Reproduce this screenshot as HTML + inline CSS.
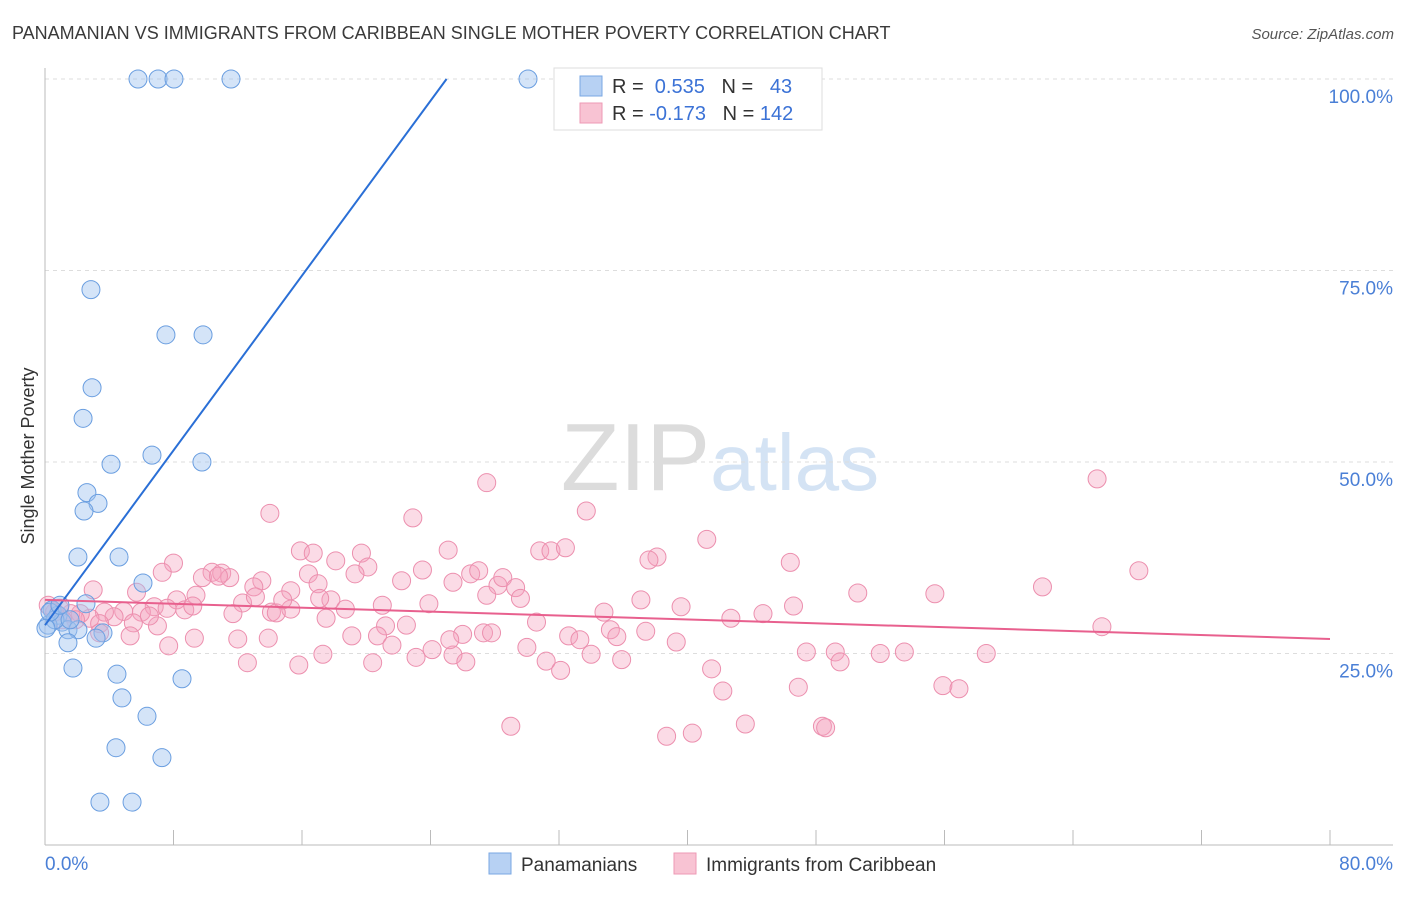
<!DOCTYPE html>
<html><head><meta charset="utf-8">
<style>
body{margin:0;background:#fff;font-family:"Liberation Sans",sans-serif;}
svg text{font-family:"Liberation Sans",sans-serif;}
</style></head>
<body>
<svg id="chart" width="1406" height="892" xmlns="http://www.w3.org/2000/svg">
<text x="12" y="39" font-size="18" fill="#3a3a3a">PANAMANIAN VS IMMIGRANTS FROM CARIBBEAN SINGLE MOTHER POVERTY CORRELATION CHART</text>
<text x="1394" y="39" font-size="15" fill="#555" text-anchor="end" font-style="italic">Source: ZipAtlas.com</text>
<text x="720" y="490" font-size="96" text-anchor="middle" fill="#e4e4e4" font-family="Liberation Serif"><tspan fill="#dcdcdc">ZIP</tspan><tspan fill="#d4e3f4" font-family="Liberation Sans" font-size="80">atlas</tspan></text>
<g id="grid"></g>
<g id="axes"></g>
<g id="pts"></g>
<g id="lines"></g>
<text transform="translate(34,456) rotate(-90)" font-size="18" fill="#333" text-anchor="middle">Single Mother Poverty</text>
<g>
<rect x="554" y="68" width="268" height="62" fill="#fff" stroke="#ddd"/>
<rect x="580" y="76" width="22" height="20" fill="#b7d1f3" stroke="#7aa7e3"/>
<rect x="580" y="103" width="22" height="20" fill="#f8c3d3" stroke="#ee9ab4"/>
<text x="612" y="93" font-size="20" fill="#333">R = <tspan fill="#3b72d6">&#160;0.535</tspan>&#160;&#160;&#160;N = <tspan fill="#3b72d6">&#160;&#160;43</tspan></text>
<text x="612" y="120" font-size="20" fill="#333">R = <tspan fill="#3b72d6">-0.173</tspan>&#160;&#160;&#160;N = <tspan fill="#3b72d6">142</tspan></text>
</g>
<g>
<rect x="489" y="853" width="22" height="21" fill="#b7d1f3" stroke="#7aa7e3"/>
<text x="521" y="871" font-size="19" fill="#333">Panamanians</text>
<rect x="674" y="853" width="22" height="21" fill="#f8c3d3" stroke="#ee9ab4"/>
<text x="706" y="871" font-size="19" fill="#333">Immigrants from Caribbean</text>
</g>
</svg>
<script>
const blueX=[5.79,7.04,8.03,11.58,30.07,2.86,7.53,9.84,2.93,2.37,4.11,6.66,9.77,2.61,3.30,2.43,2.05,4.61,6.10,2.55,0.44,0.81,1.06,1.43,2.05,3.61,3.18,1.43,1.74,4.48,8.53,4.79,6.35,4.42,7.28,3.42,5.42,0.19,0.62,0.31,0.93,1.56,0.06];
const blueY=[100,100,100,100,100,72.5,66.6,66.6,59.7,55.7,49.7,50.9,50.0,46.0,44.6,43.6,37.6,37.6,34.2,31.5,30.7,30.0,29.1,28.1,28.1,27.7,27.0,26.4,23.1,22.3,21.7,19.2,16.8,12.7,11.4,5.6,5.6,28.7,29.4,30.4,31.3,29.4,28.3];
const pinkX=[14.0,22.9,33.7,27.5,65.5,41.2,25.1,30.8,31.5,32.4,38.1,37.6,46.4,68.1,15.9,16.7,18.1,19.7,20.1,8.0,7.3,5.7,3.0,10.4,9.8,11.0,11.5,10.8,13.5,13.0,15.3,16.4,17.0,19.3,22.2,23.5,25.4,26.5,27.0,28.2,28.5,29.3,29.6,27.5,23.9,21.0,17.8,15.3,14.1,12.3,9.4,8.2,8.7,6.8,6.0,4.9,4.3,3.7,2.8,2.2,1.6,1.9,1.1,3.4,5.5,7.0,7.6,11.7,14.4,17.5,21.2,22.5,24.1,25.4,26.0,27.3,27.8,30.0,30.6,31.2,32.1,32.6,33.3,34.0,34.8,35.2,35.6,35.9,37.4,37.1,39.6,39.3,41.5,42.2,42.7,44.7,46.6,46.9,47.4,49.2,49.5,50.6,52.0,53.5,55.4,55.9,56.9,58.6,62.1,65.8,29.0,38.7,40.3,43.6,48.4,48.6,7.7,9.3,12.0,13.9,12.6,15.8,17.3,19.1,20.4,20.7,21.6,23.1,26.2,25.2,0.9,0.6,0.2,5.3,6.5,3.4,9.2,13.1,14.8,17.1,18.7];
const pinkY=[43.3,42.7,43.6,47.3,47.8,39.9,38.5,38.4,38.4,38.8,37.6,37.2,36.9,35.8,38.4,38.1,37.1,38.1,36.3,36.8,35.6,33.0,33.3,35.6,34.9,35.5,34.9,35.1,34.5,33.7,33.2,35.4,34.1,35.4,34.5,35.9,34.3,35.4,35.8,33.9,34.9,33.6,32.2,32.6,31.5,31.3,32.0,30.8,30.4,31.6,32.6,32.0,30.7,31.1,30.4,30.5,29.8,30.4,29.6,30.2,30.2,29.4,29.4,28.9,29.0,28.6,30.9,30.2,30.3,29.6,28.6,28.7,25.5,24.8,27.5,27.7,27.7,25.8,29.1,24.0,22.8,27.3,26.8,24.9,30.4,28.1,27.2,24.2,27.9,32.0,31.1,26.5,23.0,20.1,29.6,30.2,31.2,20.6,25.2,25.2,23.9,32.9,25.0,25.2,32.8,20.8,20.4,25.0,33.7,28.5,15.5,14.2,14.6,15.8,15.5,15.3,26.0,27.0,26.9,27.0,23.8,23.5,24.9,27.3,23.8,27.3,26.1,24.5,23.9,26.8,30.9,30.4,31.3,27.3,29.9,27.7,31.2,32.4,32.0,32.2,30.8];
const blueTrend=[[0,28.7],[25.0,100]];
const pinkTrend=[[0,32.0],[80,26.9]];
const yTicks=[25,50,75,100];
const yTickLabels=["25.0%","50.0%","75.0%","100.0%"];
const xTickCount=10;

const NS="http://www.w3.org/2000/svg";
const X0=45,X1=1330,Y0=845,Y1=79;
const sx=v=>X0+(v/80)*(X1-X0);
const sy=v=>Y0-(v/100)*(Y0-Y1);
function mk(tag,attrs,parent){const e=document.createElementNS(NS,tag);for(const k in attrs)e.setAttribute(k,attrs[k]);parent.appendChild(e);return e;}
const grid=document.getElementById('grid'),axes=document.getElementById('axes'),pts=document.getElementById('pts'),lines=document.getElementById('lines');
yTicks.forEach((t,i)=>{
  const l=mk('line',{x1:X0,x2:1393,y1:sy(t),y2:sy(t),stroke:'#ddd','stroke-dasharray':'4,4'},grid);
  
  
  const tx=mk('text',{x:1393,y:sy(t)+24,'font-size':19,fill:'#4a7fd6','text-anchor':'end'},axes);
  tx.textContent=yTickLabels[i];
  
  
});
const ax=mk('line',{x1:X0,x2:1393,y1:Y0,y2:Y0,stroke:'#bbb'},axes);


const ay=mk('line',{x1:X0,x2:X0,y1:68,y2:Y0,stroke:'#bbb'},axes);


for(let i=1;i<=xTickCount;i++){
  const x=sx(i*80/xTickCount);
  const t=mk('line',{x1:x,x2:x,y1:830,y2:Y0,stroke:'#bbb'},axes);
  
  
}
const xl=mk('text',{x:45,y:870,'font-size':19,fill:'#4a7fd6'},axes);xl.textContent='0.0%';


const xr=mk('text',{x:1393,y:870,'font-size':19,fill:'#4a7fd6','text-anchor':'end'},axes);xr.textContent='80.0%';


pinkX.forEach((v,i)=>{
  const c=mk('circle',{cx:sx(v),cy:sy(pinkY[i]),r:9,fill:'rgba(244,160,188,0.38)',stroke:'#ec8fae','stroke-width':1},pts);
  
  
});
blueX.forEach((v,i)=>{
  const c=mk('circle',{cx:sx(v),cy:sy(blueY[i]),r:9,fill:'rgba(160,195,240,0.45)',stroke:'#6a9ee0','stroke-width':1},pts);
  
  
});
const lb=mk('line',{x1:sx(blueTrend[0][0]),y1:sy(blueTrend[0][1]),x2:sx(blueTrend[1][0]),y2:sy(blueTrend[1][1]),stroke:'#2a6fd6','stroke-width':2},lines);


const lp=mk('line',{x1:sx(pinkTrend[0][0]),y1:sy(pinkTrend[0][1]),x2:sx(pinkTrend[1][0]),y2:sy(pinkTrend[1][1]),stroke:'#e8608e','stroke-width':2},lines);


</script>
</body></html>
